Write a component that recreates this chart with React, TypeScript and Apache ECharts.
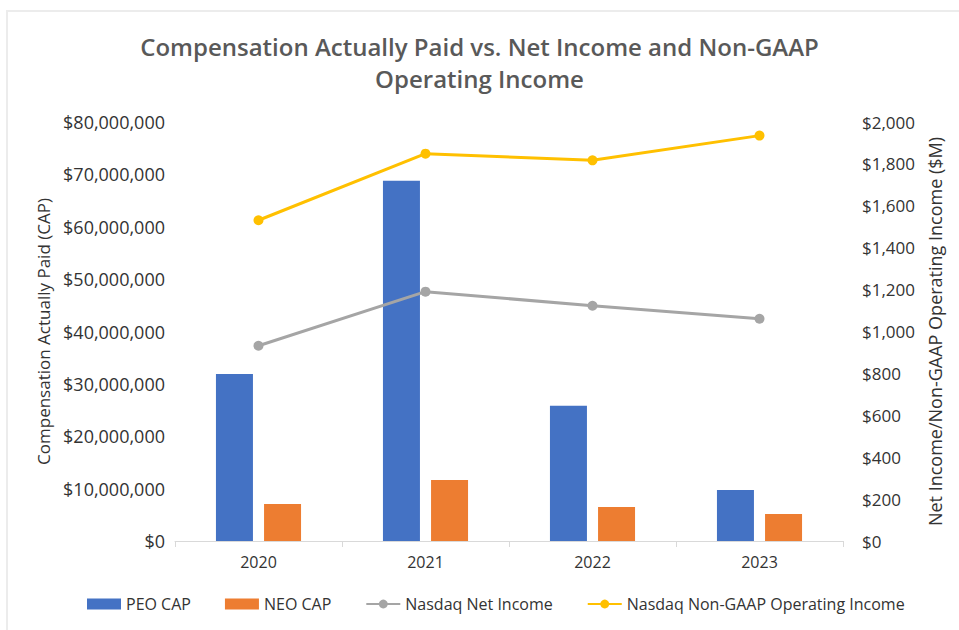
import React, { useEffect, useRef } from "react";
import * as echarts from "echarts";

const years = ["2020", "2021", "2022", "2023"];
const peoCap = [31900000, 68800000, 25800000, 9750000];
const neoCap = [7070000, 11650000, 6500000, 5160000];
const netIncome = [932, 1190, 1123, 1061];
const nonGaapOpIncome = [1531, 1849, 1817, 1935];

const FONT = "'Open Sans', 'Noto Sans', sans-serif";
const TXT = "#333333";

function money(v: number) {
  return "$" + Math.round(v).toLocaleString("en-US");
}

export default function App() {
  const ref = useRef<HTMLDivElement>(null);
  useEffect(() => {
    document.body.style.margin = "0";
    const chart = echarts.init(ref.current!, null, { renderer: "svg" });
    chart.setOption({
      animation: false,
      backgroundColor: "#ffffff",
      textStyle: { fontFamily: FONT },
      title: {
        text: "Compensation Actually Paid vs. Net Income and Non-GAAP\nOperating Income",
        left: "center",
        top: 25,
        textStyle: {
          fontFamily: FONT,
          fontSize: 24,
          fontWeight: 600,
          color: "#595959",
          lineHeight: 32,
        },
      },
      graphic: [
        { type: "line", shape: { x1: 6, y1: 11, x2: 959, y2: 11 }, style: { stroke: "#ececec", lineWidth: 2 } },
        { type: "line", shape: { x1: 7, y1: 11, x2: 7, y2: 630 }, style: { stroke: "#ececec", lineWidth: 2 } },
      ],
      legend: {
        bottom: 13,
        left: 82,
        itemWidth: 34,
        itemHeight: 11,
        itemGap: 34,
        textStyle: { fontFamily: FONT, fontSize: 16, color: TXT },
        data: [
          { name: "PEO CAP", icon: "rect" },
          { name: "NEO CAP", icon: "rect" },
          "Nasdaq Net Income",
          "Nasdaq Non-GAAP Operating Income",
        ],
      },
      grid: { left: 175, right: 116, top: 122, bottom: 89, containLabel: false },
      xAxis: {
        type: "category",
        data: years,
        axisLine: { lineStyle: { color: "#d9d9d9" } },
        axisTick: { show: true, alignWithLabel: false, length: 6, lineStyle: { color: "#d9d9d9" } },
        axisLabel: { fontFamily: FONT, fontSize: 16, color: TXT, margin: 13 },
      },
      yAxis: [
        {
          type: "value",
          min: 0,
          max: 80000000,
          interval: 10000000,
          name: "Compensation Actually Paid (CAP)",
          nameLocation: "middle",
          nameGap: 119,
          nameTextStyle: { fontFamily: FONT, fontSize: 17, color: TXT },
          splitLine: { show: false },
          axisLine: { show: false },
          axisTick: { show: false },
          axisLabel: { fontFamily: FONT, fontSize: 18, color: TXT, margin: 10, formatter: (v: number) => money(v) },
        },
        {
          type: "value",
          min: 0,
          max: 2000,
          interval: 200,
          name: "Net Income/Non-GAAP Operating Income ($M)",
          nameLocation: "middle",
          nameGap: 78,
          nameRotate: 90,
          nameTextStyle: { fontFamily: FONT, fontSize: 18, color: TXT },
          splitLine: { show: false },
          axisLine: { show: false },
          axisTick: { show: false },
          axisLabel: { fontFamily: FONT, fontSize: 17, color: TXT, margin: 19, formatter: (v: number) => money(v) },
        },
      ],
      series: [
        {
          name: "PEO CAP",
          type: "bar",
          data: peoCap,
          barWidth: 37,
          barGap: "30%",
          itemStyle: { color: "#4472C4" },
        },
        {
          name: "NEO CAP",
          type: "bar",
          data: neoCap,
          barWidth: 37,
          barGap: "30%",
          itemStyle: { color: "#ED7D31" },
        },
        {
          name: "Nasdaq Net Income",
          type: "line",
          yAxisIndex: 1,
          data: netIncome,
          symbol: "circle",
          symbolSize: 10,
          lineStyle: { color: "#A5A5A5", width: 3 },
          itemStyle: { color: "#A5A5A5" },
        },
        {
          name: "Nasdaq Non-GAAP Operating Income",
          type: "line",
          yAxisIndex: 1,
          data: nonGaapOpIncome,
          symbol: "circle",
          symbolSize: 10,
          lineStyle: { color: "#FFC000", width: 3 },
          itemStyle: { color: "#FFC000" },
        },
      ],
    });
    return () => chart.dispose();
  }, []);
  return <div ref={ref} style={{ width: 959, height: 630 }} />;
}
